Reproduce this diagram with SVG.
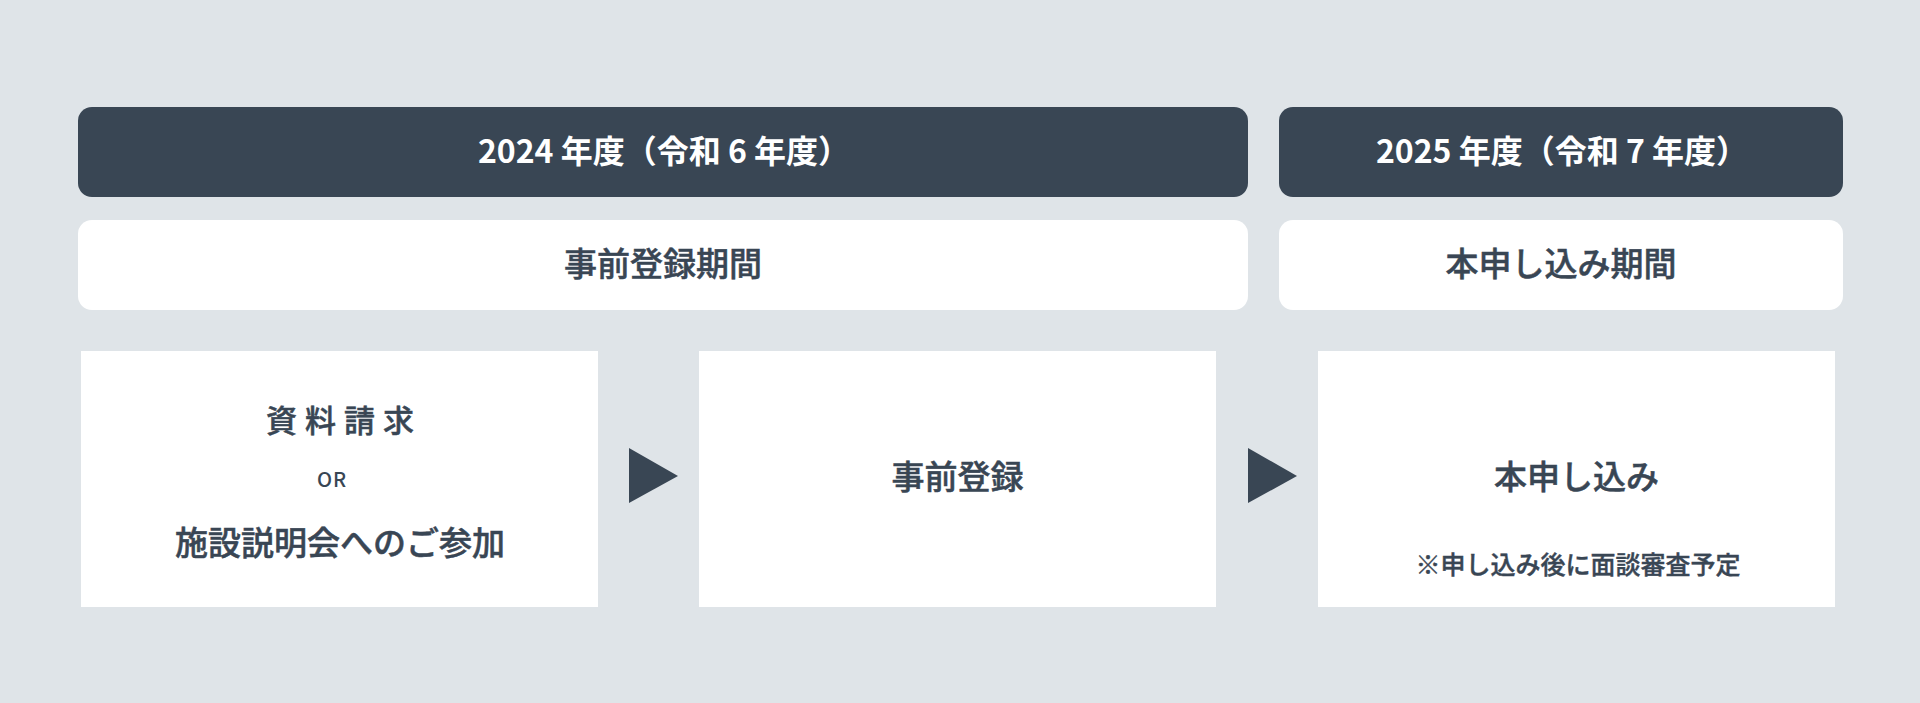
<svg xmlns="http://www.w3.org/2000/svg" width="1920" height="703" viewBox="0 0 1920 703">
  <style>
    .hdr { fill: #394654; }
    .band { fill: #ffffff; }
    .card { fill: #ffffff; }
    .arrow { fill: #394654; }
    text { font-family: "Noto Sans CJK JP", "Noto Sans", sans-serif; text-anchor: middle; }
    .th { fill: #ffffff; font-size: 32px; font-weight: 700; }
    .tb { fill: #394654; stroke: #394654; stroke-width: 0.5px; font-size: 33px; font-weight: 500; }
    .ts { fill: #394654; stroke: #394654; stroke-width: 0.4px; font-size: 25px; font-weight: 500; }
    .tor { fill: #394654; font-size: 20px; font-weight: 500; letter-spacing: 1px; }
  </style>
  <rect width="1920" height="703" fill="#dfe4e8"/>

  <g id="year-2024">
    <rect class="hdr" x="78" y="107" width="1170" height="90" rx="14"/>
    <text class="th" x="664" y="163">2024 年度（令和 6 年度）</text>
  </g>
  <g id="year-2025">
    <rect class="hdr" x="1279" y="107" width="564" height="90" rx="14"/>
    <text class="th" x="1562" y="163">2025 年度（令和 7 年度）</text>
  </g>
  <g id="period-pre">
    <rect class="band" x="78" y="220" width="1170" height="90" rx="14"/>
    <text class="tb" x="663" y="276">事前登録期間</text>
  </g>
  <g id="period-main">
    <rect class="band" x="1279" y="220" width="564" height="90" rx="14"/>
    <text class="tb" x="1561" y="276">本申し込み期間</text>
  </g>

  <g id="step-request">
    <rect class="card" x="81" y="351" width="517" height="256"/>
    <text class="tb" x="344" y="432" style="font-size:31px;letter-spacing:8px">資料請求</text>
    <text class="tor" x="332" y="487">OR</text>
    <text class="tb" x="340" y="555">施設説明会へのご参加</text>
  </g>
  <g id="step-preregister">
    <rect class="card" x="699" y="351" width="517" height="256"/>
    <text class="tb" x="957.5" y="489">事前登録</text>
  </g>
  <g id="step-apply">
    <rect class="card" x="1318" y="351" width="517" height="256"/>
    <text class="tb" x="1576.5" y="489">本申し込み</text>
    <text class="ts" x="1578" y="574">※申し込み後に面談審査予定</text>
  </g>

  <g id="connectors">
    <polygon class="arrow" points="629,448 678,476 629,503"/>
    <polygon class="arrow" points="1248,448 1297,476 1248,503"/>
  </g>
</svg>
